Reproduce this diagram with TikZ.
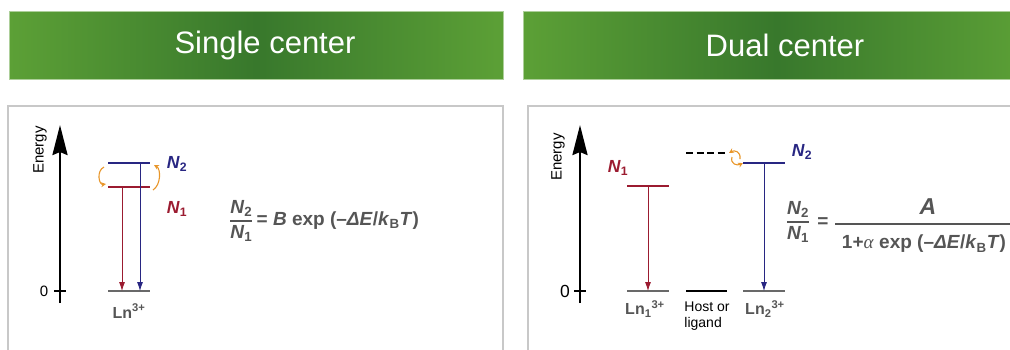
\documentclass[tikz,border=0pt]{standalone}
\usepackage{amsmath}
\usepackage{fontspec}
\setmainfont{Liberation Sans}
\newfontfamily\serifgreek{Liberation Serif}
\usepackage{tikz}
\usetikzlibrary{arrows.meta,calc}
\definecolor{bannergreen}{RGB}{92,160,54}
\definecolor{bannerdark}{RGB}{56,120,44}
\definecolor{boxgray}{RGB}{200,200,200}
\definecolor{darkred}{RGB}{155,27,48}
\definecolor{darkblue}{RGB}{40,38,130}
\definecolor{orange}{RGB}{232,150,42}
\definecolor{textgray}{RGB}{85,85,85}
\definecolor{levelgray}{RGB}{105,105,105}

\newcommand{\Nsym}[1]{\textbf{\textit{N}\textsubscript{\upshape #1}}}
\newcommand{\rate}{\textbf{exp (\textendash\textit{ΔE}/\textit{k}\textsubscript{\upshape B}\textit{T})}}

\begin{document}
\begin{tikzpicture}[x=1pt, y=-1pt,
    every node/.style={inner sep=0pt},
    banner/.style={left color=bannergreen, right color=bannergreen, middle color=bannerdark, draw=bannergreen!50!white, line width=0.6pt},
    panel/.style={draw=boxgray, line width=2pt},
    level/.style={line width=2pt},
    decay/.style={-{Latex[length=9pt,width=6pt]}, line width=0.8pt},
    swap/.style={-{Stealth[length=5pt,width=5pt]}, orange, line width=1.1pt},
    energy/.style={line width=2.6pt, -{Stealth[length=30pt,width=15pt,inset=3pt]}},
    head/.style={white, font=\fontsize{31}{36}\selectfont},
    lab/.style={font=\fontsize{15}{18}\selectfont},
    big/.style={font=\fontsize{17.5}{21}\selectfont},
    ion/.style={textgray, font=\fontsize{16}{19}\selectfont\bfseries},
    eq/.style={textgray, font=\fontsize{19}{23}\selectfont}]
    \useasboundingbox (0,0) rectangle (1010,349);
    \clip (0,0) rectangle (1010,349);

    % Banners
    \draw[banner] (9,11) rectangle (503,79);
    \draw[banner] (523,11) rectangle (1030,79);
    \node[head] (single) at (265,45) {Single center};
    \node[head] (dual) at (785,45) {Dual center};

    % Panels
    \draw[panel] (8,106) rectangle (503,370);
    \draw[panel] (528,106) rectangle (1030,370);

    % Single center: energy axis
    \coordinate (eb1) at (60,303);
    \coordinate (et1) at (60,125);
    \draw[energy] (eb1) -- (et1);
    \node[lab, rotate=90] (energy1) at (40,150) {Energy};
    \draw[line width=1.5pt] (54,291) -- (66,291);
    \node[lab] (zero1) at (44,291) {0};

    % Single center: levels
    \draw[level, darkblue] (108,163) coordinate (n2a) -- (150,163) coordinate (n2b);
    \draw[level, darkred] (108,187) coordinate (n1a) -- (150,187) coordinate (n1b);
    \draw[level, levelgray] (108,291) coordinate (g1a) -- (150,291) coordinate (g1b);
    \node[ion] (ln) at (129,311) {Ln\textsuperscript{3+}};
    \node[big, darkblue] (lab2) at (177,164) {\Nsym{2}};
    \node[big, darkred] (lab1) at (177,209) {\Nsym{1}};

    % Decays to the ground level
    \draw[decay, darkred] ($(n1a)+(14,0)$) -- ($(g1a)+(14,0)$);
    \draw[decay, darkblue] ($(n2b)+(-10,0)$) -- ($(g1b)+(-10,0)$);

    % Thermal coupling N1 <-> N2
    \draw[swap] ($(n2a)+(-4,4)$) .. controls ($(n2a)+(-12,8)$) and ($(n1a)+(-9,-2)$) .. ($(n1a)+(-2,-3)$);
    \draw[swap] ($(n1b)+(3,3)$) .. controls ($(n1b)+(11,-2)$) and ($(n2b)+(11,6)$) .. ($(n2b)+(4,2)$);

    % Single center: ratio
    \node[eq, anchor=west] (ratio1) at (229,221)
        {$\genfrac{}{}{1.3pt}{0}{\text{\Nsym{2}}}{\text{\Nsym{1}}}$\,\textbf{= \textit{B}} \rate};

    % Dual center: energy axis
    \coordinate (eb2) at (580,303);
    \coordinate (et2) at (580,125);
    \draw[energy] (eb2) -- (et2);
    \node[lab, rotate=90] (energy2) at (558,157) {Energy};
    \draw[line width=1.5pt] (574,291) -- (586,291);
    \node[big] (zero2) at (565,291) {0};

    % Dual center: levels
    \draw[level, darkred] (627,186) coordinate (m1a) -- (669,186) coordinate (m1b);
    \draw[level, dashed, dash pattern=on 7pt off 3.5pt] (686,153) coordinate (ha) -- (728,153) coordinate (hb);
    \draw[level, darkblue] (743,163) coordinate (m2a) -- (785,163) coordinate (m2b);
    \draw[level, levelgray] (627,291) coordinate (h1a) -- (669,291) coordinate (h1b);
    \draw[level] (686,291) coordinate (hga) -- (727,291) coordinate (hgb);
    \draw[level, levelgray] (743,291) coordinate (h2a) -- (785,291) coordinate (h2b);
    \node[big, darkred] (lab1d) at (618,168) {\Nsym{1}};
    \node[big, darkblue] (lab2d) at (802,152) {\Nsym{2}};
    \node[ion] (ln1) at (645,309) {Ln\textsubscript{1}\textsuperscript{3+}};
    \node[lab, font=\fontsize{14}{16}\selectfont, align=left] (host) at (707,316) {Host or\\ligand};
    \node[ion] (ln2) at (765,309) {Ln\textsubscript{2}\textsuperscript{3+}};

    % Decays to the ground levels
    \draw[decay, darkred] ($(m1a)+(21,0)$) -- ($(h1a)+(21,0)$);
    \draw[decay, darkblue] ($(m2a)+(21,0)$) -- ($(h2a)+(21,0)$);

    % Transfer host <-> Ln2
    \draw[swap] ($(m2a)+(-3,-4)$) .. controls ($(m2a)+(-2,-12)$) and ($(hb)+(6,-3)$) .. ($(hb)+(1,0)$);
    \draw[swap] ($(hb)+(4,4)$) .. controls ($(hb)+(2,11)$) and ($(m2a)+(-6,3)$) .. ($(m2a)+(0,0)$);

    % Dual center: ratio
    \node[eq] (ratio2) at (798,222) {$\genfrac{}{}{1.3pt}{0}{\text{\Nsym{2}}}{\text{\Nsym{1}}}$};
    \node[eq, font=\fontsize{19}{23}\selectfont\bfseries] (eq2) at (823,223) {=};
    \coordinate (bara) at (835,224);
    \coordinate (barb) at (1020,224);
    \draw[textgray, line width=1.6pt] (bara) -- (barb);
    \node[textgray, font=\fontsize{23}{27}\selectfont] (numA) at (928,207) {\textbf{\textit{A}}};
    \node[eq] (denom) at (924,244) {\textbf{1+}{\serifgreek\itshape α} \rate};

\end{tikzpicture}
\end{document}
